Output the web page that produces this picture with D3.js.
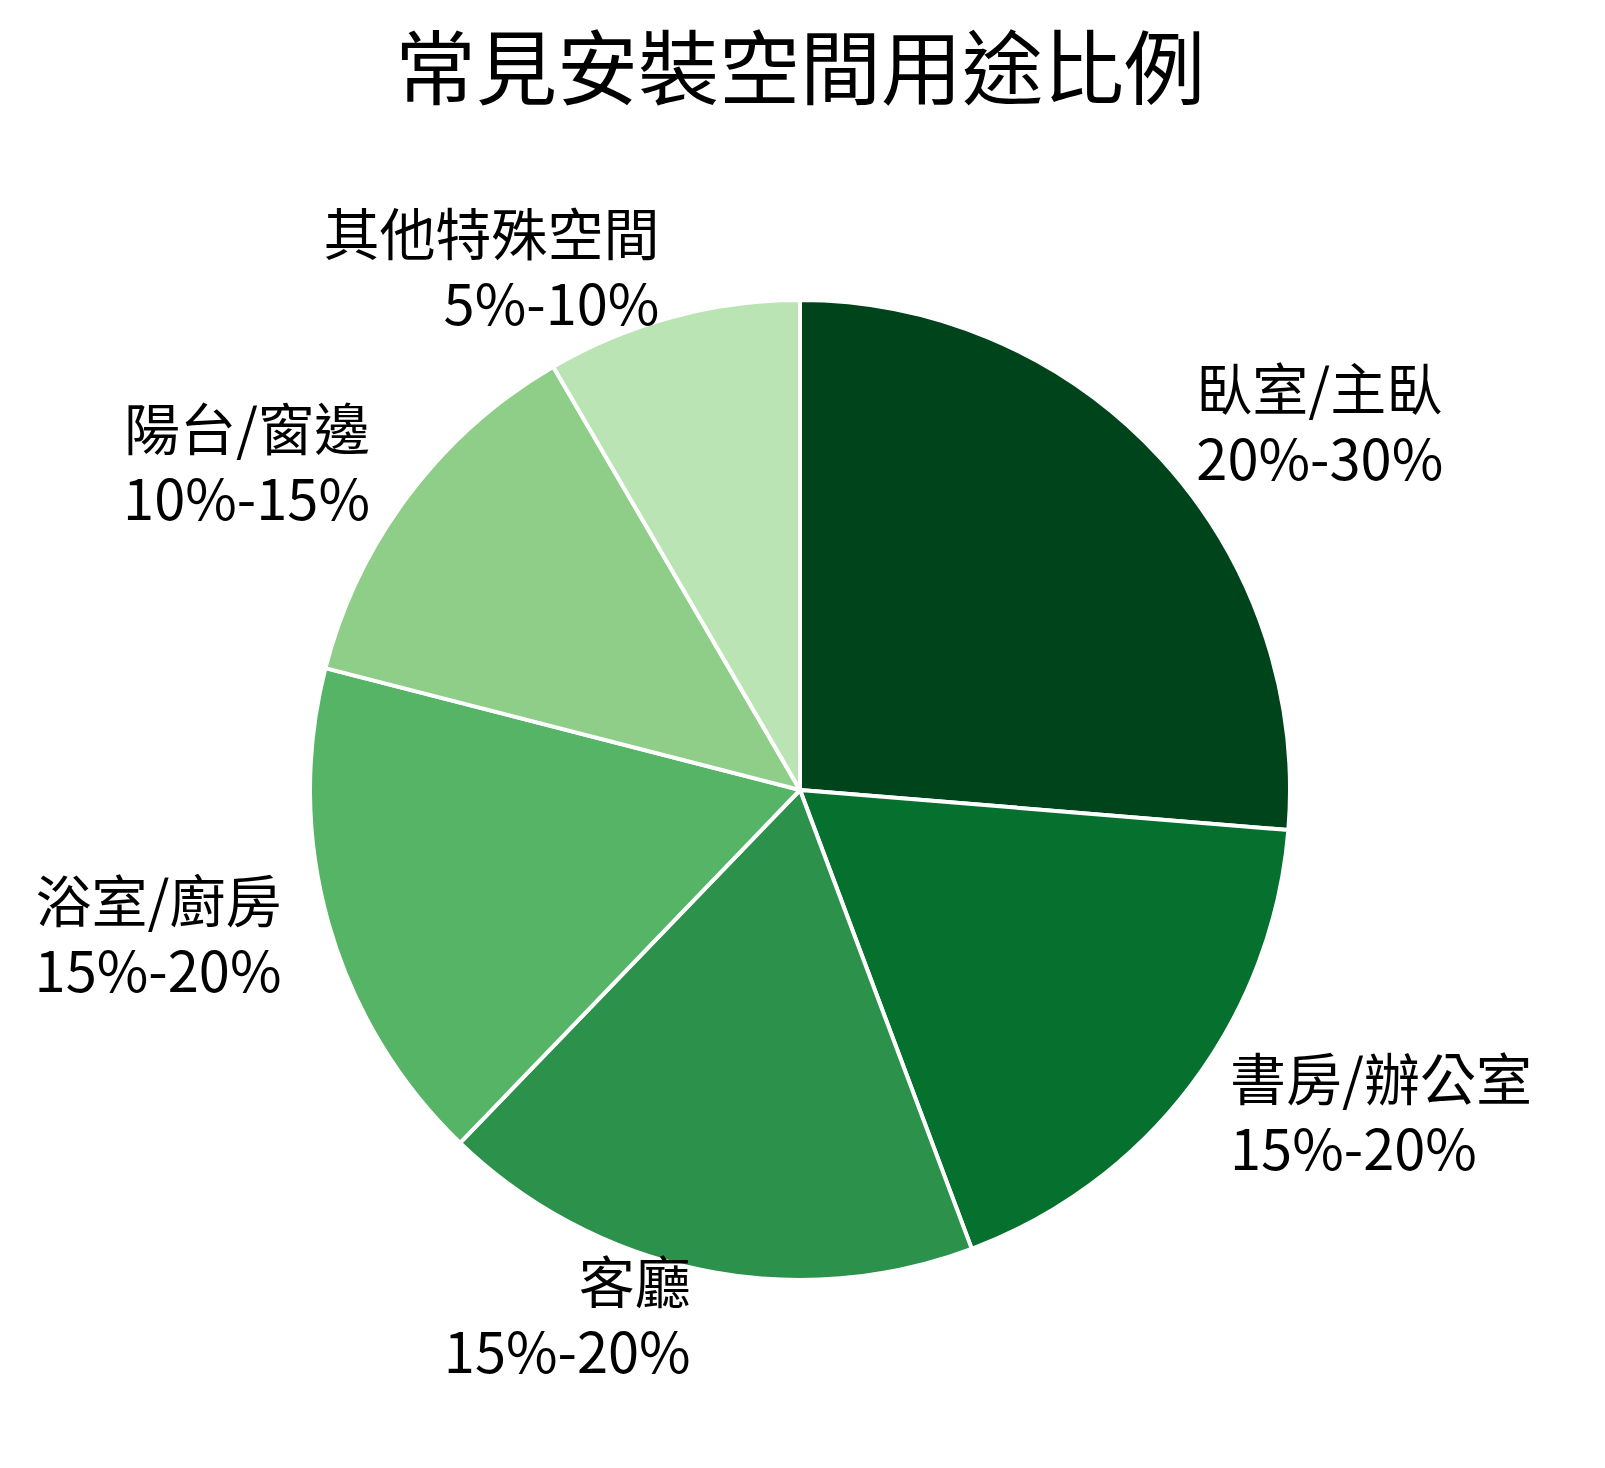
<!DOCTYPE html>
<html><head><meta charset="utf-8">
<script src="https://cdn.jsdelivr.net/npm/d3@7"></script>
<style>body{margin:0;background:#fff}text{font-family:"Noto Sans CJK TC","Noto Sans",sans-serif;fill:#000}</style>
</head><body>
<svg id="c" width="1605" height="1468"></svg>
<script>
const categories = ["臥室/主臥","書房/辦公室","客廳","浴室/廚房","陽台/窗邊","其他特殊空間"];
const rangeLabels = ["20%-30%","15%-20%","15%-20%","15%-20%","10%-15%","5%-10%"];
const values = [26.3,18.0,17.9,16.8,12.6,8.4];
const colors = ["#00441b","#06712f","#2c914b","#56b467","#8fce88","#bae4b3"];

const svg = d3.select("#c");
const cx = 800, cy = 790, r = 490;
svg.append("text").attr("x",800).attr("y",98).attr("text-anchor","middle")
  .attr("font-size",81).text("常見安裝空間用途比例");
const pie = d3.pie().sort(null).value(d=>d)(values);
const arc = d3.arc().innerRadius(0).outerRadius(r);
const g = svg.append("g").attr("transform",`translate(${cx},${cy})`);
g.selectAll("path").data(pie).join("path").attr("d",arc)
  .attr("fill",(d,i)=>colors[i]).attr("stroke","#fff").attr("stroke-width",4).attr("stroke-linejoin","round");
pie.forEach((d,i)=>{
  const a=(d.startAngle+d.endAngle)/2, lr=r*1.1;
  const x=lr*Math.sin(a), y=-lr*Math.cos(a);
  const t=g.append("text").attr("x",x).attr("y",y).attr("font-size",56)
    .attr("text-anchor", x>0?"start":"end");
  t.append("tspan").attr("x",x).attr("dy","-0.27em").text(categories[i]);
  t.append("tspan").attr("x",x).attr("dy","1.25em").text(rangeLabels[i]);
});
</script></body></html>
